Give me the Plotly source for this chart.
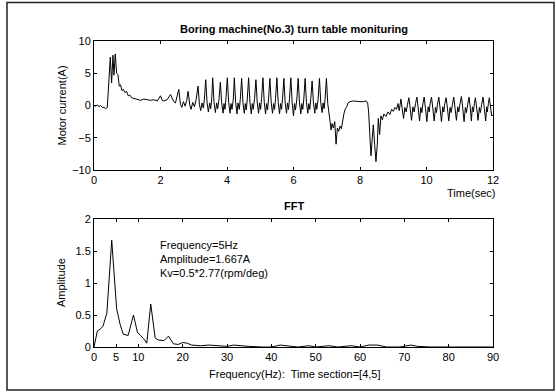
import plotly.graph_objects as go

# ---- Motor current signal (time in sec, current in A) ----
time_s = [
    0, 0.05, 0.1, 0.15, 0.2, 0.25, 0.3, 0.35, 0.4, 0.43, 0.46, 0.49, 0.53, 0.57, 0.6, 0.64, 0.68, 0.72, 0.76, 0.8,
    0.84, 0.88, 0.93, 0.98, 1.03, 1.08, 1.13, 1.2, 1.3, 1.4, 1.5, 1.6, 1.7, 1.8, 1.9, 2.0, 2.05, 2.1, 2.2, 2.3,
    2.35, 2.4, 2.45,
    2.55, 2.60, 2.64, 2.69, 2.74, 2.79, 2.83, 2.88, 2.92, 2.97, 3.02, 3.07, 3.13, 3.17, 3.21, 3.25, 3.29, 3.32,
    3.36, 3.40, 3.44, 3.48, 3.51, 3.54, 3.57, 3.61, 3.65, 3.69, 3.72, 3.76, 3.80, 3.84, 3.88, 3.91, 3.94, 3.97,
    4.01, 4.05, 4.09, 4.12, 4.15, 4.19, 4.22, 4.26, 4.30, 4.33, 4.37, 4.40, 4.44, 4.48, 4.52, 4.55, 4.58, 4.61,
    4.65, 4.69, 4.73, 4.76, 4.79, 4.83, 4.87, 4.91, 4.95, 4.98, 5.01, 5.04, 5.08, 5.12, 5.16, 5.19, 5.22, 5.25,
    5.29, 5.33, 5.37, 5.40, 5.43, 5.46, 5.50, 5.54, 5.58, 5.61, 5.64, 5.67, 5.71, 5.75, 5.79, 5.82, 5.85, 5.88,
    5.92, 5.96, 6.00, 6.03, 6.06, 6.10, 6.14, 6.18, 6.22, 6.25, 6.28, 6.31, 6.35, 6.39, 6.43, 6.46, 6.49, 6.52,
    6.56, 6.60, 6.64, 6.67, 6.70, 6.74, 6.78, 6.82, 6.86, 6.89, 6.92, 6.95, 6.99, 7.03,
    7.07, 7.10, 7.13, 7.16, 7.20, 7.24, 7.28, 7.32, 7.36, 7.40, 7.44, 7.48, 7.52, 7.56, 7.60, 7.64, 7.70, 7.80,
    7.90, 8.00, 8.10, 8.18, 8.23, 8.26, 8.29, 8.33, 8.37, 8.40, 8.44, 8.48, 8.52, 8.55, 8.59, 8.63, 8.67, 8.72,
    8.78, 8.84, 8.90, 8.95, 9.00, 9.05, 9.10, 9.14, 9.18,
    9.23, 9.27, 9.31, 9.35, 9.39, 9.43, 9.47, 9.51, 9.55, 9.59, 9.63, 9.67, 9.71, 9.75, 9.79, 9.83, 9.86, 9.89,
    9.93, 9.97, 10.01, 10.05, 10.08, 10.11, 10.15, 10.19, 10.23, 10.27, 10.30, 10.33, 10.37, 10.41, 10.45, 10.49,
    10.52, 10.55, 10.59, 10.63, 10.67, 10.71, 10.74, 10.78, 10.82, 10.86, 10.90, 10.94, 10.97, 11.01, 11.05,
    11.09, 11.13, 11.17, 11.20, 11.24, 11.28, 11.32, 11.35, 11.38, 11.41, 11.44, 11.47, 11.51, 11.55, 11.59,
    11.62, 11.66, 11.70, 11.74, 11.78, 11.81, 11.83, 11.86, 11.89, 11.93, 11.96, 12.00,
]
current_a = [
    0.0, -0.1, 0.1, -0.2, 0.0, -0.3, -0.3, -0.5, -0.3, 2.0, 4.5, 7.5, 3.5, 7.8, 4.7, 8.0, 5.0, 4.8, 3.0, 3.2,
    2.3, 2.5, 2.0, 2.2, 1.5, 1.6, 1.2, 1.1, 0.9, 0.8, 1.0, 0.9, 0.8, 0.9, 0.7, 1.5, 0.8, 0.7, 0.9, 1.7,
    1.0, 0.6, 0.4,
    2.5, 0.2, -0.3, 0.6, -0.1, 0.8, 2.2, 0.1, -0.6, 0.5, -0.2, 0.9, 3.0, 0.2, -0.8, 0.4, -0.4, 1.0,
    4.0, 0.5, -1.0, 0.4, -0.5, 1.0, 4.3, 0.5, -1.1, 0.4, -0.5, 1.0, 3.6, 0.4, -1.2, 0.3, -0.6, 1.2,
    4.3, 0.5, -1.2, 0.3, -0.6, 1.0, 4.3, 0.5, -1.3, 0.4, -0.6, 1.0, 4.2, 0.4, -1.2, 0.3, -0.7, 1.0,
    4.3, 0.5, -1.3, 0.3, -0.6, 1.1, 4.0, 0.4, -1.2, 0.4, -0.6, 1.1, 4.3, 0.5, -1.3, 0.3, -0.7, 1.0,
    4.2, 0.4, -1.2, 0.3, -0.6, 1.1, 4.3, 0.5, -1.3, 0.3, -0.6, 1.0, 4.2, 0.4, -1.2, 0.4, -0.6, 1.1,
    4.3, 0.4, -1.6, 0.3, -0.7, 1.0, 4.2, 0.4, -1.3, 0.3, -0.6, 1.0, 4.2, 0.4, -1.2, 0.3, -0.6, 1.1,
    3.8, 0.4, -1.2, 0.4, -0.6, 1.0, 4.2, 0.4, -1.1, 0.4, -0.5, 1.0, 4.2, 0.3,
    -1.0, -2.5, -3.8, -2.8, -3.5, -2.5, -6.0, -3.5, -4.0, -3.2, -3.6, -2.0, -1.2, -0.5, -0.2, 0.4, 0.6, 0.7,
    0.6, 0.6, 0.6, 0.7, 0.4, -1.0, -4.0, -7.8, -5.0, -3.0, -6.0, -8.7, -6.0, -2.0, -4.5, -1.6, -2.2, -1.3,
    -1.7, -1.0, -1.4, -0.6, -0.9, -0.3, -0.6, 0.3, -0.8,
    1.0, -0.5, -2.0, -0.3, -1.0, 0.2, 1.2, -0.5, -2.3, -0.2, -1.0, 0.3, 1.3, -0.4, -2.4, -0.3, -1.1, 0.2,
    1.3, -0.5, -2.5, -0.2, -1.0, 0.3, 1.3, -0.4, -2.4, -0.3, -1.1, 0.2, 1.3, -0.5, -2.5, -0.2,
    -1.0, 0.3, 1.2, -0.4, -2.4, -0.3, -1.1, 0.2, 1.3, -0.5, -2.3, -0.2, -1.0, 0.3, 1.4,
    -0.4, -2.5, -0.3, -1.1, 0.2, 1.3, -0.5, -2.4, -0.2, -1.0, 0.3, 1.2, -0.4, -2.3, -0.3,
    -1.1, 0.2, 1.3, -0.5, -2.4, -0.2, -1.0, 0.3, 1.2, -0.4, -1.6, -1.5,
]

# ---- FFT spectrum ----
freq_hz = [0, 0.75, 1.4, 2.0, 2.9, 4.0, 5.1, 5.9, 6.6, 7.7, 8.9, 9.8, 10.5, 11.2, 11.9, 12.8, 13.8, 14.5,
           15.8, 16.8, 17.9, 19.0, 20.0, 21.0, 22.0, 24, 26, 28, 30, 31.5, 33, 35, 38, 40, 42, 44, 46,
           48.5, 50, 53, 55, 58, 60, 62, 64, 66, 69, 71.5, 73, 76, 80, 83, 86, 90]
amplitude = [0.0, 0.25, 0.28, 0.32, 0.53, 1.667, 0.6, 0.35, 0.2, 0.18, 0.5, 0.23, 0.18, 0.13, 0.06, 0.67,
             0.14, 0.11, 0.1, 0.17, 0.05, 0.04, 0.07, 0.06, 0.03, 0.02, 0.03, 0.02, 0.01, 0.03, 0.02, 0.01,
             0.0, 0.0, 0.03, 0.01, 0.0, 0.02, 0.0, 0.02, 0.0, 0.02, 0.0, 0.03, 0.03, 0.0, 0.0, 0.03, 0.01,
             0.0, 0.0, 0.0, 0.0, 0.0]

top_xticks = [0, 2, 4, 6, 8, 10, 12]
top_yticks = [-10, -5, 0, 5, 10]
fft_xticks = [0, 5, 10, 20, 30, 40, 50, 60, 70, 80, 90]
fft_yticks = [0, 0.5, 1, 1.5, 2]
info_lines = ["Frequency=5Hz", "Amplitude=1.667A", "Kv=0.5*2.77(rpm/deg)"]

W, H = 556, 392
L, R, T, B = 94, 493, 41, 347
PW, PH = R - L, B - T


def px(x):
    return (x - L) / PW


def py(y):
    return (B - y) / PH


FONT = "Liberation Sans, Arial, sans-serif"

fig = go.Figure()
fig.add_trace(go.Scatter(x=time_s, y=current_a, mode="lines", line=dict(color="black", width=1),
                         xaxis="x", yaxis="y", showlegend=False))
fig.add_trace(go.Scatter(x=freq_hz, y=amplitude, mode="lines", line=dict(color="black", width=1),
                         xaxis="x2", yaxis="y2", showlegend=False))

axis_common = dict(showline=True, linecolor="black", linewidth=1, mirror="ticks", ticks="inside",
                   ticklen=3, tickcolor="black", showgrid=False, zeroline=False,
                   tickfont=dict(family=FONT, size=11, color="black"))

fig.update_layout(
    width=W, height=H,
    margin=dict(l=L, r=W - R, t=T, b=H - B),
    paper_bgcolor="white", plot_bgcolor="white",
    xaxis=dict(domain=[0, 1], range=[0, 12], tickvals=top_xticks, anchor="y", **axis_common),
    yaxis=dict(domain=[py(170), 1], range=[-10, 10], tickvals=top_yticks, anchor="x", **axis_common),
    xaxis2=dict(domain=[0, 1], range=[0, 90], tickvals=fft_xticks, anchor="y2", **axis_common),
    yaxis2=dict(domain=[0, py(219)], range=[0, 2], tickvals=fft_yticks, anchor="x2",
                tickformat="", **axis_common),
    showlegend=False,
)

ann = []
def text(x, y, s, size=11, bold=False, xanchor="center", angle=0):
    ann.append(dict(x=px(x), y=py(y), xref="paper", yref="paper", text=("<b>%s</b>" % s) if bold else s,
                    showarrow=False, xanchor=xanchor, yanchor="middle", textangle=angle,
                    font=dict(family=FONT, size=size, color="black")))

text(293.5, 29, "Boring machine(No.3) turn table monituring", bold=True)
text(497, 193, "Time(sec)", xanchor="right")
text(61, 105.5, "Motor current(A)", angle=-90)
text(293.5, 206, "FFT", bold=True)
text(61, 283, "Amplitude", angle=-90)
text(294, 374, "Frequency(Hz):  Time section=[4,5]")
for i, s in enumerate(info_lines):
    text(158, 245 + 14 * i, s, xanchor="left")

fig.update_layout(annotations=ann)
fig.add_shape(type="rect", xref="paper", yref="paper", x0=px(7), x1=px(554), y0=py(390), y1=py(2.5),
              line=dict(color="#222222", width=1.5), fillcolor="rgba(0,0,0,0)", layer="below")

fig.write_html("out.html")
